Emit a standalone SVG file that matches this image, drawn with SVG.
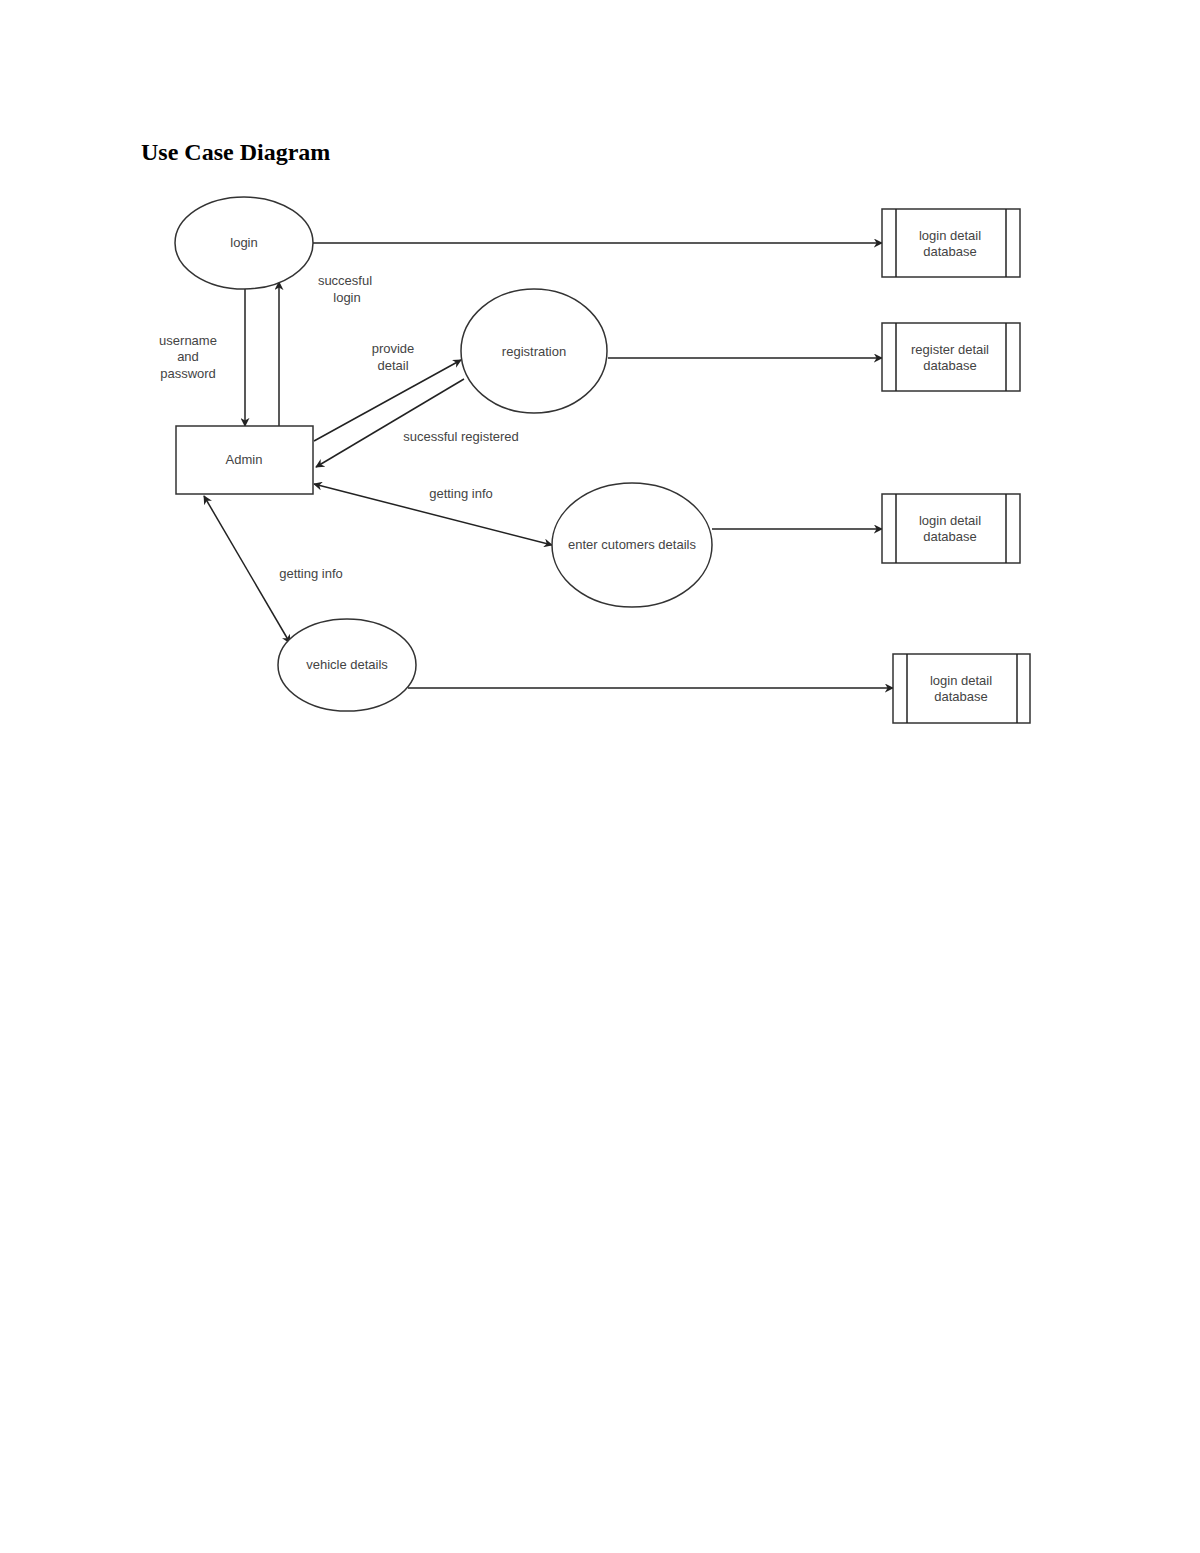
<svg xmlns="http://www.w3.org/2000/svg" width="1200" height="1553" viewBox="0 0 1200 1553">
<defs>
<marker id="ah" viewBox="0 0 10 10" refX="9" refY="5" markerWidth="9" markerHeight="9" markerUnits="userSpaceOnUse" orient="auto-start-reverse"><path d="M0,0 L10,5 L0,10 L3,5 z" fill="#222"/></marker>
<style>
.s{fill:#fff;stroke:#333;stroke-width:1.5}
.t{font-family:"Liberation Sans",Arial,sans-serif;font-size:13px;fill:#444;text-anchor:middle}
.c{stroke:#222;stroke-width:1.5;fill:none}
</style>
</defs>
<rect width="1200" height="1553" fill="#fff"/>
<text x="141" y="160" font-family="Liberation Serif,serif" font-weight="bold" font-size="24" fill="#000">Use Case Diagram</text>
<g id="connectors">
<line class="c" x1="313" y1="243" x2="882" y2="243" marker-end="url(#ah)"/>
<line class="c" x1="245" y1="289" x2="245" y2="426" marker-end="url(#ah)"/>
<line class="c" x1="279" y1="426" x2="279" y2="282" marker-end="url(#ah)"/>
<line class="c" x1="314" y1="441" x2="461" y2="360" marker-end="url(#ah)"/>
<line class="c" x1="464" y1="379" x2="316" y2="467" marker-end="url(#ah)"/>
<line class="c" x1="314" y1="484" x2="552" y2="545" marker-start="url(#ah)" marker-end="url(#ah)"/>
<line class="c" x1="204" y1="496" x2="290" y2="643" marker-start="url(#ah)" marker-end="url(#ah)"/>
<line class="c" x1="608" y1="358" x2="882" y2="358" marker-end="url(#ah)"/>
<line class="c" x1="712" y1="529" x2="882" y2="529" marker-end="url(#ah)"/>
<line class="c" x1="408" y1="688" x2="893" y2="688" marker-end="url(#ah)"/>
<text class="t" x="345" y="285">succesful</text><text class="t" x="347" y="302">login</text>
<text class="t" x="188" y="345">username</text><text class="t" x="188" y="361">and</text><text class="t" x="188" y="378">password</text>
<text class="t" x="393" y="353">provide</text><text class="t" x="393" y="370">detail</text>
<text class="t" x="461" y="441">sucessful registered</text>
<text class="t" x="461" y="498">getting info</text>
<text class="t" x="311" y="578">getting info</text>
</g>
<g id="login"><ellipse class="s" cx="244" cy="243" rx="69" ry="46"/><text class="t" x="244" y="247">login</text></g>
<g id="admin"><rect class="s" x="176" y="426" width="137" height="68"/><text class="t" x="244" y="464">Admin</text></g>
<g id="registration"><ellipse class="s" cx="534" cy="351" rx="73" ry="62"/><text class="t" x="534" y="356">registration</text></g>
<g id="customers"><ellipse class="s" cx="632" cy="545" rx="80" ry="62"/><text class="t" x="632" y="549">enter cutomers details</text></g>
<g id="vehicle"><ellipse class="s" cx="347" cy="665" rx="69" ry="46"/><text class="t" x="347" y="669">vehicle details</text></g>
<g id="db1"><rect class="s" x="882" y="209" width="138" height="68"/><line class="c" x1="896" y1="209" x2="896" y2="277"/><line class="c" x1="1006" y1="209" x2="1006" y2="277"/><text class="t" x="950" y="240">login detail</text><text class="t" x="950" y="256">database</text></g>
<g id="db2"><rect class="s" x="882" y="323" width="138" height="68"/><line class="c" x1="896" y1="323" x2="896" y2="391"/><line class="c" x1="1006" y1="323" x2="1006" y2="391"/><text class="t" x="950" y="354">register detail</text><text class="t" x="950" y="370">database</text></g>
<g id="db3"><rect class="s" x="882" y="494" width="138" height="69"/><line class="c" x1="896" y1="494" x2="896" y2="563"/><line class="c" x1="1006" y1="494" x2="1006" y2="563"/><text class="t" x="950" y="525">login detail</text><text class="t" x="950" y="541">database</text></g>
<g id="db4"><rect class="s" x="893" y="654" width="137" height="69"/><line class="c" x1="907" y1="654" x2="907" y2="723"/><line class="c" x1="1017" y1="654" x2="1017" y2="723"/><text class="t" x="961" y="685">login detail</text><text class="t" x="961" y="701">database</text></g>
</svg>
